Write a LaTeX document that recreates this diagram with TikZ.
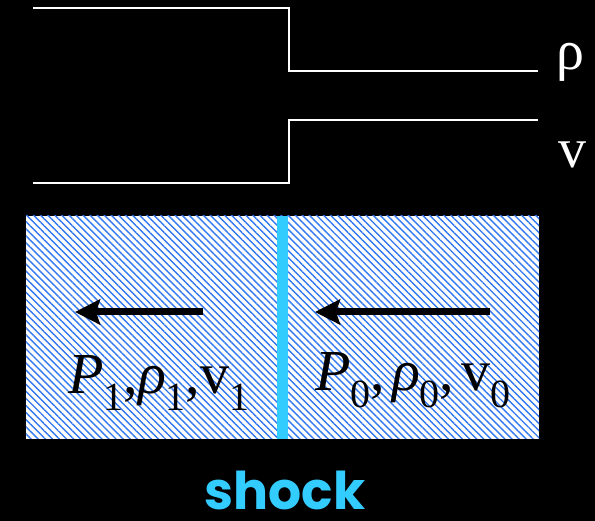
\documentclass[tikz,border=0pt]{standalone}
\usepackage{fontspec}
\setmainfont{Liberation Serif}
\newfontfamily\shockfont{Poppins}
\usetikzlibrary{arrows.meta,patterns.meta}
\definecolor{cBg}   {RGB}{0,0,0}
\definecolor{cHatch}{RGB}{50,120,240}
\definecolor{cShock}{RGB}{51,204,255}

% subscript that hangs below the baseline
\newcommand\lowsub[1]{\lower.28em\hbox{\fontsize{40}{40}\selectfont #1}}
\newcommand\statelbl[2][0pt]{\textit{P}\lowsub{#2},\hspace{#1}\textit{ρ}\lowsub{#2},\hspace{#1}v\lowsub{#2}}

\begin{document}
\begin{tikzpicture}[x=1pt, y=-1pt]

%% ── shared styles ─────────────────────────────────────────────────────────
\tikzset{
  region/.style={
    rectangle, inner sep=0pt, minimum height=223pt, minimum width=#1,
    fill=white, postaction={pattern={Lines[angle=-45,distance=5pt,line width=1.4pt]},
    pattern color=cHatch}
  },
  profile/.style={white, line width=2.4pt},
  flow/.style={-{Stealth[length=25pt,width=25pt,inset=4pt]}, line width=7pt, black},
  shockln/.style={cShock, line width=11pt},
  varlbl/.style={text=white, font=\fontsize{56}{58}\selectfont, inner sep=0pt},
  statelbl/.style={text=black, font=\fontsize{58}{60}\selectfont, inner sep=0pt,
    anchor=base west},
}

% background
\fill[cBg] (0,0) rectangle (595,521);
\useasboundingbox (0,0) rectangle (595,521);

%% ══════════════════════════════════════════════════════════════════════════
%% PROFILES  –  density drops, velocity rises across the shock
%% ══════════════════════════════════════════════════════════════════════════
\draw[profile] (33,8) -- (289,8) -- (289,71) -- (538,71);
\draw[profile] (33,183) -- (289,183) -- (289,120) -- (538,120);

\node[varlbl] (rholbl) at (570,62)  {ρ};
\node[varlbl] (vlbl)   at (572,155) {v};

%% ══════════════════════════════════════════════════════════════════════════
%% GAS  –  shocked (left) and unshocked (right)
%% ══════════════════════════════════════════════════════════════════════════
\node[region=256pt] (left)  at (154,327.5)   {};
\node[region=257pt] (right) at (410.5,327.5) {};

\draw[shockln] (left.north east) -- (left.south east);

\coordinate (f1s) at (203,312);
\coordinate (f1e) at (75,312);
\coordinate (f0s) at (490,312);
\coordinate (f0e) at (315,312);
\draw[flow] (f1s) -- (f1e);
\draw[flow] (f0s) -- (f0e);

\node[statelbl] (state1) at (68,394)  {\statelbl{1}};
\node[statelbl] (state0) at (315,391) {\statelbl[7pt]{0}};

%% ── shock label ───────────────────────────────────────────────────────────
\node[text=cShock, font=\shockfont\bfseries\fontsize{52}{54}\selectfont,
      anchor=base, inner sep=0pt] (shocklbl) at (285,510) {shock};

\end{tikzpicture}
\end{document}
